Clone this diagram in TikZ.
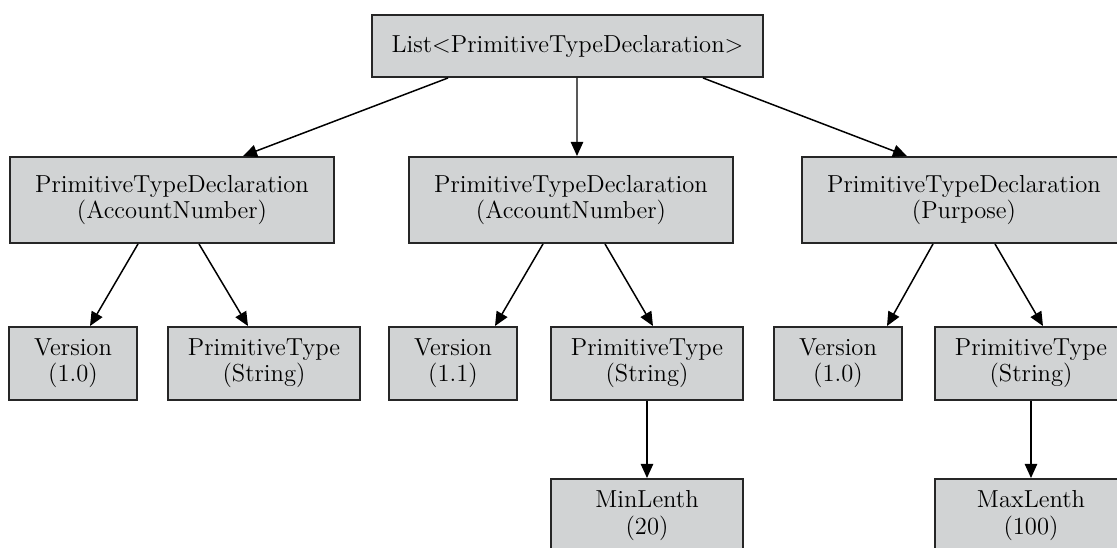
\documentclass[tikz,border=0pt]{standalone}
\usepackage{tikz}
\usetikzlibrary{arrows.meta}

\definecolor{boxgray}{RGB}{209,211,212}
\tikzset{
  blk/.style={draw=black!85, line width=1.1pt, fill=boxgray, inner sep=0pt, align=center,
    font=\fontsize{14}{15}\selectfont},
  decl/.style={blk, minimum width=6.48cm, minimum height=1.72cm},
  ver/.style={blk, minimum width=2.56cm, minimum height=1.46cm},
  ptype/.style={blk, minimum width=3.84cm, minimum height=1.46cm},
}

\begin{document}
\begin{tikzpicture}[x=0.02cm, y=-0.02cm, >={Triangle[length=8pt,width=7pt]}, line width=0.85pt]
    \useasboundingbox (0,0) rectangle (1117,548);
    \clip (0,0) rectangle (1117,548);

    % 顶层节点
    \node[blk, minimum width=7.82cm, minimum height=1.24cm] (lst) at (567.5,46) {List\textless PrimitiveTypeDeclaration\textgreater};

    % 第二层
    \node[decl] (d1) at (172,200) {PrimitiveTypeDeclaration\\(AccountNumber)};
    \node[decl] (d2) at (571,200) {PrimitiveTypeDeclaration\\(AccountNumber)};
    \node[decl] (d3) at (964,200) {PrimitiveTypeDeclaration\\(Purpose)};

    % 第三层
    \node[ver] (v1) at (73,363.5) {Version\\(1.0)};
    \node[ptype] (p1) at (264,363.5) {PrimitiveType\\(String)};
    \node[ver] (v2) at (453,363.5) {Version\\(1.1)};
    \node[ptype] (p2) at (647,363.5) {PrimitiveType\\(String)};
    \node[ver] (v3) at (838,363.5) {Version\\(1.0)};
    \node[ptype] (p3) at (1031,363.5) {PrimitiveType\\(String)};

    % 第四层
    \node[ptype] (minl) at (647,515.5) {MinLenth\\(20)};
    \node[ptype] (maxl) at (1031,515.5) {MaxLenth\\(100)};

    % 箭头
    \draw[->] ([xshift=-2.39cm]lst.south) -- ([xshift=1.42cm]d1.north);
    \draw[->] ([xshift=0.19cm]lst.south) -- ([xshift=0.12cm]d2.north);
    \draw[->] ([xshift=2.71cm]lst.south) -- ([xshift=-1.14cm]d3.north);

    \draw[->] ([xshift=-0.68cm]d1.south) -- ([xshift=0.34cm]v1.north);
    \draw[->] ([xshift=0.54cm]d1.south) -- ([xshift=-0.32cm]p1.north);
    \draw[->] ([xshift=-0.56cm]d2.south) -- ([xshift=0.84cm]v2.north);
    \draw[->] ([xshift=0.68cm]d2.south) -- ([xshift=0.12cm]p2.north);
    \draw[->] ([xshift=-0.62cm]d3.south) -- ([xshift=0.98cm]v3.north);
    \draw[->] ([xshift=0.62cm]d3.south) -- ([xshift=0.24cm]p3.north);

    \draw[->] (p2) -- (minl);
    \draw[->] (p3) -- (maxl);
\end{tikzpicture}
\end{document}
